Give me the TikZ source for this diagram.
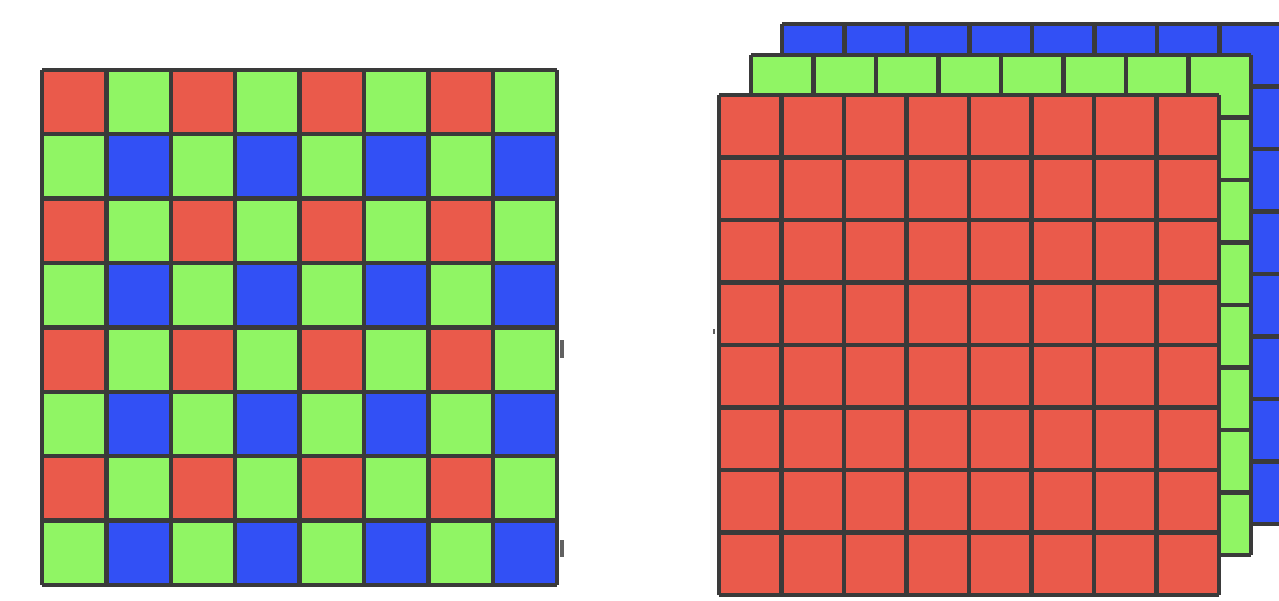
\documentclass[tikz,border=0pt]{standalone}
\usepackage{tikz}

\definecolor{bayerred}{RGB}{234,90,75}
\definecolor{bayergreen}{RGB}{144,245,100}
\definecolor{bayerblue}{RGB}{50,80,245}
\definecolor{gridgray}{RGB}{58,58,58}

\begin{document}
\begin{tikzpicture}[
  x=1cm, y=1cm,
  gridline/.style={draw=gridgray, line width=1.3pt},
  % one colour plane of the stacked sensor
  plane/.style={fill=#1},
  tick/.style={fill=gridgray!80}]

  \useasboundingbox (0,0) rectangle (12.79,6.00);
  \clip (0,0) rectangle (12.79,6.00);

  % Bayer mosaic
  \begin{scope}[shift={(0.42,0.15)}, scale=0.644]
    \fill[bayergreen] (0,0) rectangle (8,8);
    \foreach \i in {0,...,3}
      \foreach \j in {0,...,3} {
        \fill[bayerred]  (2*\i,2*\j+1) rectangle ++(1,1);
        \fill[bayerblue] (2*\i+1,2*\j) rectangle ++(1,1);
      }
    \draw[gridline] (0,0) grid (8,8);
  \end{scope}

  % stacked planes, back to front
  \foreach \px/\py/\col in {7.82/0.76/bayerblue, 7.51/0.45/bayergreen, 7.19/0.05/bayerred} {
    \begin{scope}[shift={(\px,\py)}, scale=0.625]
      \fill[plane=\col] (0,0) rectangle (8,8);
      \draw[gridline] (0,0) grid (8,8);
    \end{scope}
  }

  % small marks
  \fill[tick] (5.60,2.42) rectangle (5.64,2.60);
  \fill[tick] (5.60,0.43) rectangle (5.64,0.60);
  \fill[tick] (7.13,2.66) rectangle (7.15,2.71);
\end{tikzpicture}
\end{document}
